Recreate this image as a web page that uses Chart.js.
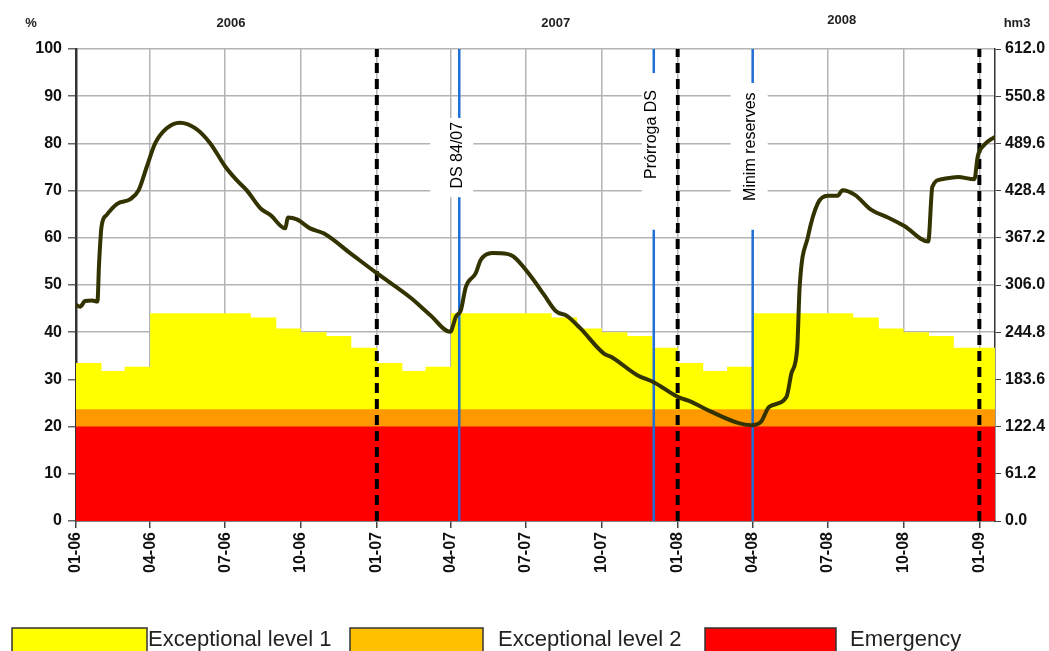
<!DOCTYPE html>
<html>
<head>
<meta charset="utf-8">
<title>Reserves</title>
<script src="https://cdn.jsdelivr.net/npm/chart.js@4.4.1/dist/chart.umd.min.js"></script>
<style>
  html, body { margin: 0; padding: 0; background: #fff; }
  #wrap { width: 1049px; height: 651px; position: relative; }
</style>
</head>
<body>
<div id="wrap"><canvas id="reserves"></canvas></div>
<script>
// x values are days counted from 1 Jan 2006
const tickDates = ['2006-01-01','2006-04-01','2006-07-01','2006-10-01','2007-01-01','2007-04-01','2007-07-01','2007-10-01','2008-01-01','2008-04-01','2008-07-01','2008-10-01','2009-01-01'];
const tickLabels = ['01-06','04-06','07-06','10-06','01-07','04-07','07-07','10-07','01-08','04-08','07-08','10-08','01-09'];
const pctTicks = [0, 10, 20, 30, 40, 50, 60, 70, 80, 90, 100];
const hm3Ticks = [0.0, 61.2, 122.4, 183.6, 244.8, 306.0, 367.2, 428.4, 489.6, 550.8, 612.0];
const endDay = 1115;

// stored volume, % of capacity
const reserveDays = [0, 5, 11, 19, 26, 28, 31, 37, 50, 66, 76, 86, 96, 110, 126, 145, 163, 181, 195, 207,
  224, 236, 254, 257, 268, 284, 301, 333, 365, 406, 430, 454, 461, 467, 473, 485, 491, 505, 523, 531,
  552, 568, 582, 596, 612, 641, 649, 681, 702, 730, 746, 762, 803, 819, 831, 841, 862, 868, 875, 878,
  888, 900, 912, 924, 930, 945, 965, 985, 1005, 1034, 1039, 1050, 1070, 1090, 1094, 1102, 1115];
const reservePct = [45.8, 45.4, 46.6, 46.7, 46.5, 54.6, 62.4, 64.8, 67.2, 68.2, 70.1, 75.1, 80.0, 83.2, 84.4, 83.2, 80.0, 75.1, 72.2, 70.1,
  66.2, 64.8, 62.0, 64.3, 63.9, 62.0, 60.9, 56.7, 52.5, 47.3, 43.6, 40.1, 43.3, 44.7, 49.6, 52.5, 55.3, 56.8, 56.6, 56.0,
  51.8, 47.9, 44.5, 43.4, 40.8, 35.4, 34.8, 30.9, 29.3, 26.3, 25.3, 23.9, 20.8, 20.3, 21.0, 24.2, 26.3, 31.3, 36.6, 49.6,
  60.2, 67.3, 68.9, 68.9, 70.1, 69.1, 65.9, 64.3, 62.5, 59.2, 70.8, 72.4, 72.9, 72.4, 77.2, 79.7, 81.4];

// monthly thresholds, Jan 2006 .. Dec 2008
const level1Pct = [
  33.5, 31.8, 32.7, 44.0, 44.0, 44.0, 44.0, 43.1, 40.8, 40.0, 39.2, 36.7,
  33.5, 31.8, 32.7, 44.0, 44.0, 44.0, 44.0, 43.1, 40.8, 40.0, 39.2, 36.7,
  33.5, 31.8, 32.7, 44.0, 44.0, 44.0, 44.0, 43.1, 40.8, 40.0, 39.2, 36.7];
const level2Pct = 23.7;
const emergencyPct = 20;

const yearNames = ['2006', '2007', '2008'];
const yearDays = [188, 582, 929];
const yearDates = ['2007-01-01', '2008-01-01', '2009-01-01'];
const eventDates = ['2007-04-11', '2007-12-03', '2008-04-01'];
const eventNames = ['DS 84/07', 'Prórroga DS', 'Minim reserves'];
const legendNames = ['Exceptional level 1', 'Exceptional level 2', 'Emergency'];

const dayOf = s => {
  const p = s.split('-').map(Number);
  return (Date.UTC(p[0], p[1] - 1, p[2]) - Date.UTC(2006, 0, 1)) / 86400000;
};
const tickDays = tickDates.map(dayOf);

const monthDays = [];
for (let y = 2006; y <= 2008; y++) {
  for (let m = 0; m < 12; m++) monthDays.push((Date.UTC(y, m, 1) - Date.UTC(2006, 0, 1)) / 86400000);
}
const level1Points = monthDays.map((d, i) => ({ x: d, y: level1Pct[i] }));
level1Points.push({ x: endDay, y: level1Pct[level1Pct.length - 1] });

const FONT = '"Liberation Sans", Arial, sans-serif';
Chart.defaults.font.family = FONT;

const bandColors = ['#ffff00', '#ff9900', '#ff0000'];
const legendColors = ['#ffff00', '#ffc000', '#ff0000'];

function vline(day, color, width, dash, order) {
  return {
    data: [{ x: day, y: 0 }, { x: day, y: 100 }],
    borderColor: color, borderWidth: width, borderDash: dash,
    pointRadius: 0, fill: false, order: order, borderCapStyle: 'butt'
  };
}

const datasets = [
  {
    label: 'Reserves',
    data: reserveDays.map((d, i) => ({ x: d, y: reservePct[i] })),
    borderColor: '#333300', borderWidth: 4, pointRadius: 0, fill: false,
    cubicInterpolationMode: 'monotone', order: 1
  },
  {
    label: legendNames[0], data: level1Points, stepped: true,
    backgroundColor: bandColors[0], borderWidth: 0, pointRadius: 0, fill: 'origin', order: 8
  },
  {
    label: legendNames[1], data: [{ x: 0, y: level2Pct }, { x: endDay, y: level2Pct }],
    backgroundColor: bandColors[1], borderWidth: 0, pointRadius: 0, fill: 'origin', order: 7
  },
  {
    label: legendNames[2], data: [{ x: 0, y: emergencyPct }, { x: endDay, y: emergencyPct }],
    backgroundColor: bandColors[2], borderWidth: 0, pointRadius: 0, fill: 'origin', order: 6
  }
];
yearDates.forEach(s => datasets.push(vline(dayOf(s), '#000', 4, [10, 6], 3)));
eventDates.forEach(s => datasets.push(vline(dayOf(s), '#1f6fd6', 2.5, [], 2)));

// white label boxes over the event lines: [topPct, bottomPct, leftPx, rightPx, textPct]
const eventBoxes = [[85.4, 68.6, -29, 14, 77.5], [94.9, 61.7, -12, 22, 81.9], [92.8, 61.7, -22, 15, 79.3]];

const decorations = {
  id: 'decorations',
  afterDatasetsDraw(chart) {
    const ctx = chart.ctx, xs = chart.scales.x, ys = chart.scales.y;
    ctx.save();
    eventDates.forEach((s, i) => {
      const b = eventBoxes[i];
      const x = xs.getPixelForValue(dayOf(s));
      const top = ys.getPixelForValue(b[0]), bottom = ys.getPixelForValue(b[1]);
      ctx.fillStyle = '#fff';
      ctx.fillRect(x + b[2], top, b[3] - b[2], bottom - top);
      ctx.translate(x - 2, ys.getPixelForValue(b[4]));
      ctx.rotate(-Math.PI / 2);
      ctx.fillStyle = '#000';
      ctx.font = '16px ' + FONT;
      ctx.textAlign = 'center';
      ctx.textBaseline = 'middle';
      ctx.fillText(eventNames[i], 0, 0);
      ctx.setTransform(1, 0, 0, 1, 0, 0);
      ctx.scale(chart.currentDevicePixelRatio, chart.currentDevicePixelRatio);
    });
    ctx.restore();
  },
  afterDraw(chart) {
    const ctx = chart.ctx, xs = chart.scales.x;
    ctx.save();
    ctx.fillStyle = '#222';
    ctx.textAlign = 'center';
    ctx.textBaseline = 'middle';
    ctx.font = 'bold 13px ' + FONT;
    yearNames.forEach((n, i) => ctx.fillText(n, xs.getPixelForValue(yearDays[i]), i === 2 ? 20 : 23));
    ctx.fillText('%', 31, 23);
    ctx.fillText('hm3', 1017, 23);

    // legend
    const boxX = [12, 350, 705], boxW = [135, 133, 131], textX = [148, 498, 850];
    ctx.font = '22px ' + FONT;
    ctx.textAlign = 'left';
    legendNames.forEach((n, i) => {
      ctx.fillStyle = legendColors[i];
      ctx.fillRect(boxX[i], 628, boxW[i], 26);
      ctx.strokeStyle = '#333';
      ctx.lineWidth = 1.5;
      ctx.strokeRect(boxX[i], 628, boxW[i], 26);
      ctx.fillStyle = '#222';
      ctx.fillText(n, textX[i], 640);
    });
    ctx.restore();
  }
};

const tickFont = { family: FONT, size: 16, weight: 'bold' };

new Chart(document.getElementById('reserves'), {
  type: 'line',
  data: { datasets: datasets },
  plugins: [decorations],
  options: {
    responsive: true,
    maintainAspectRatio: false,
    animation: false,
    parsing: false,
    layout: { padding: { top: 49, left: 0, right: 0, bottom: 0 } },
    plugins: { legend: { display: false }, tooltip: { enabled: false } },
    scales: {
      x: {
        type: 'linear', min: 0, max: endDay,
        afterBuildTicks: a => { a.ticks = tickDays.map(v => ({ value: v })); },
        afterFit: a => { a.height = 130; },
        ticks: {
          autoSkip: false, minRotation: 90, maxRotation: 90, padding: 4, color: '#111', font: tickFont,
          callback: (v, i) => tickLabels[i]
        },
        grid: { color: '#b4b4b4', lineWidth: 1.5, tickLength: 7, tickColor: '#444' },
        border: { color: '#333', width: 1.5 }
      },
      y: {
        min: 0, max: 100,
        afterBuildTicks: a => { a.ticks = pctTicks.map(v => ({ value: v })); },
        afterFit: a => { a.width = 76; },
        ticks: { padding: 6, color: '#111', font: tickFont },
        grid: { color: '#b4b4b4', lineWidth: 1.5, tickLength: 8, tickColor: '#666' },
        border: { color: '#333', width: 2.5 }
      },
      y2: {
        position: 'right', min: 0, max: 612,
        afterBuildTicks: a => { a.ticks = hm3Ticks.map(v => ({ value: v })); },
        afterFit: a => { a.width = 54; },
        ticks: { padding: 4, color: '#111', font: tickFont, callback: v => v.toFixed(1) },
        grid: { drawOnChartArea: false, tickLength: 6, color: '#444' },
        border: { color: '#333', width: 1.5 }
      }
    }
  }
});
</script>
</body>
</html>
